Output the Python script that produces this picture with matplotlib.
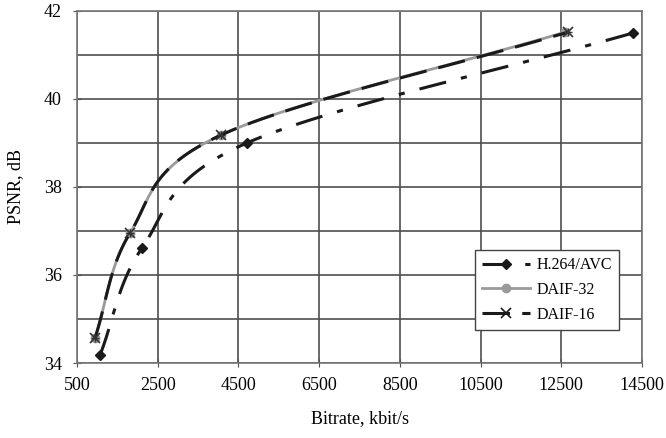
import numpy as np
import matplotlib
matplotlib.use("Agg")
import matplotlib.pyplot as plt
from matplotlib.ticker import MultipleLocator

# values
h264_rate = [1070, 2110, 4710, 14280]
h264_psnr = [34.18, 36.61, 39.00, 41.50]

daif32_rate = [946, 1813, 4069, 12600]
daif32_psnr = [34.57, 36.95, 39.18, 41.52]

daif16_rate = [946, 1813, 4069, 12670]
daif16_psnr = [34.57, 36.95, 39.18, 41.52]

x_ticks = [500, 2500, 4500, 6500, 8500, 10500, 12500, 14500]
y_ticks = [34, 36, 38, 40, 42]


def smooth(xs, ys, n=40):
    """Catmull-Rom curve through the points, like a spreadsheet smoothed line."""
    p = np.column_stack([xs, ys]).astype(float)
    p = np.vstack([2 * p[0] - p[1], p, 2 * p[-1] - p[-2]])
    out = []
    t = np.linspace(0, 1, n)[:, None]
    for i in range(1, len(p) - 2):
        p0, p1, p2, p3 = p[i - 1], p[i], p[i + 1], p[i + 2]
        seg = 0.5 * ((2 * p1) + (-p0 + p2) * t + (2 * p0 - 5 * p1 + 4 * p2 - p3) * t ** 2
                     + (-p0 + 3 * p1 - 3 * p2 + p3) * t ** 3)
        out.append(seg if i == 1 else seg[1:])
    out = np.vstack(out)
    return out[:, 0], out[:, 1]


plt.rcParams['font.family'] = ['Liberation Serif', 'DejaVu Serif']

fig = plt.figure(figsize=(6.66, 4.38), dpi=100)
ax = fig.add_axes([0.1156, 0.1712, 0.8484, 0.8038])

grid_c = '#4f4f4f'

sx, sy = smooth(daif32_rate, daif32_psnr)
ax.plot(sx, sy, color='#9a9a9a', lw=2.0, zorder=3)
ax.plot(daif32_rate, daif32_psnr, ls='none', marker='o', ms=6, color='#9a9a9a', zorder=3)

sx, sy = smooth(daif16_rate, daif16_psnr)
ax.plot(sx, sy, color='#1a1a1a', lw=2.2, dashes=(9, 4), zorder=4)
ax.plot(daif16_rate, daif16_psnr, ls='none', marker='x', ms=7, mew=1.2, color='#333333', zorder=4)
ax.plot(daif16_rate, daif16_psnr, ls='none', marker='+', ms=6, mew=1.0, color='#333333', zorder=4)

sx, sy = smooth(h264_rate, h264_psnr)
ax.plot(sx, sy, color='#1a1a1a', lw=2.2, dashes=(9, 5, 2, 5), zorder=4)
ax.plot(h264_rate, h264_psnr, ls='none', marker='D', ms=5, color='#1a1a1a', zorder=5)

# legend proxies
h1, = ax.plot([], [], color='#1a1a1a', lw=2.2, dashes=(9, 5, 2, 5), marker='D', ms=5)
h2, = ax.plot([], [], color='#9a9a9a', lw=2.0, marker='o', ms=6)
h3, = ax.plot([], [], color='#1a1a1a', lw=2.2, dashes=(9, 4), marker='x', ms=7, mew=1.2)
leg = ax.legend([h1, h2, h3], ['H.264/AVC', 'DAIF-32', 'DAIF-16'],
                loc='upper left', bbox_to_anchor=(475 / 666, 1 - 250 / 438),
                bbox_transform=fig.transFigure, borderaxespad=0,
                fancybox=False, framealpha=1, edgecolor='#444444',
                fontsize=11.5, handlelength=3.0, handletextpad=0.4,
                labelspacing=0.55, borderpad=0.45)
leg.get_frame().set_linewidth(1.0)

ax.set_xlim(500, 14500)
ax.set_ylim(34, 42)
ax.set_xticks(x_ticks)
ax.set_yticks(y_ticks)
ax.yaxis.set_minor_locator(MultipleLocator(1))
ax.grid(True, which='both', color=grid_c, lw=1.2)
ax.set_axisbelow(True)
for s in ax.spines.values():
    s.set_color('#777777')
    s.set_linewidth(1.2)

ax.tick_params(which='major', direction='inout', length=6, color=grid_c, labelsize=13)
ax.tick_params(axis='x', pad=7)
ax.tick_params(axis='y', pad=8)
ax.tick_params(which='minor', length=0)
ax.set_xlabel('Bitrate, kbit/s', fontsize=13, labelpad=12)
ax.set_ylabel('PSNR, dB', fontsize=13, labelpad=14)

fig.savefig('out.png', dpi=100)
